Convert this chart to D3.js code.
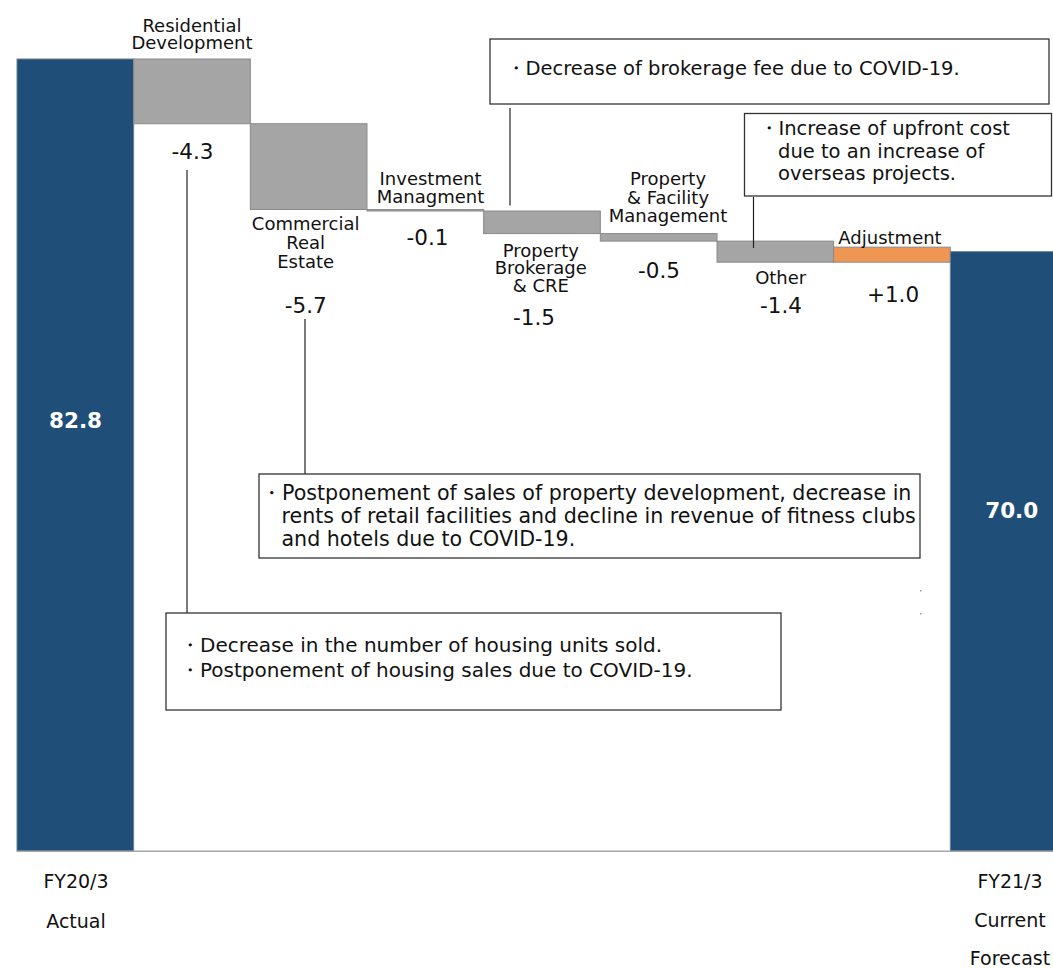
<!DOCTYPE html>
<html>
<head>
<meta charset="utf-8">
<script src="https://cdn.jsdelivr.net/npm/d3@7"></script>
<style>
  html, body { margin: 0; padding: 0; background: #fff; }
  svg { display: block; }
  text { font-family: "DejaVu Sans", Verdana, sans-serif; fill: #111; }
</style>
</head>
<body>
<svg id="chart" width="1053" height="968"></svg>
<script>
// Operating income bridge, FY20/3 actual -> FY21/3 current forecast
const categories = [
  "FY20/3 Actual", "Residential Development", "Commercial Real Estate",
  "Investment Managment", "Property Brokerage & CRE",
  "Property & Facility Management", "Other", "Adjustment",
  "FY21/3 Current Forecast"
];
const categoryLines = [
  ["FY20/3", "Actual"], ["Residential", "Development"],
  ["Commercial", "Real", "Estate"], ["Investment", "Managment"],
  ["Property", "Brokerage", "& CRE"], ["Property", "& Facility", "Management"],
  ["Other"], ["Adjustment"], ["FY21/3", "Current", "Forecast"]
];
const startValue = 82.8;
const endValue = 70.0;
const deltas = [-4.3, -5.7, -0.1, -1.5, -0.5, -1.4, 1.0];
const valueLabels = ["82.8", "-4.3", "-5.7", "-0.1", "-1.5", "-0.5", "-1.4", "+1.0", "70.0"];

const notes = [
  { lines: ["・Decrease of brokerage fee due to COVID-19."], target: 4 },
  { lines: ["・Increase of upfront cost", "due to an increase of", "overseas projects."], target: 6 },
  { lines: ["・Postponement of sales of property development, decrease in",
            "rents of retail facilities and decline in revenue of fitness clubs",
            "and hotels due to COVID-19."], target: 2 },
  { lines: ["・Decrease in the number of housing units sold.",
            "・Postponement of housing sales due to COVID-19."], target: 1 }
];

// ---- layout ----
const svg = d3.select("#chart");
const axisFloor = 30.16;

const x = d3.scaleBand().domain(categories).range([17, 1067]).padding(0);
const y = d3.scaleLinear().domain([axisFloor, startValue]).range([851.3, 59]);

// build waterfall segments
const bars = [];
bars.push({ cat: categories[0], y0: axisFloor, y1: startValue, kind: "total" });
let running = startValue;
deltas.forEach((d, i) => {
  const next = running + d;
  bars.push({ cat: categories[i + 1], y0: Math.min(running, next), y1: Math.max(running, next),
              kind: d < 0 ? "down" : "up" });
  running = next;
});
bars.push({ cat: categories[8], y0: axisFloor, y1: endValue, kind: "total" });

const fills = { total: "#1F4E79", down: "#A5A5A5", up: "#EF9752" };

svg.append("g").selectAll("rect").data(bars).join("rect")
  .attr("x", d => x(d.cat))
  .attr("width", x.bandwidth())
  .attr("y", d => y(d.y1))
  .attr("height", d => Math.max(1, y(d.y0) - y(d.y1)))
  .attr("fill", d => fills[d.kind])
  .attr("stroke", d => d.kind === "total" ? "#6f7f8f" : "#8a8a8a")
  .attr("stroke-width", 1);

// baseline
svg.append("line")
  .attr("x1", 17).attr("x2", 1053)
  .attr("y1", y(axisFloor)).attr("y2", y(axisFloor))
  .attr("stroke", "#A6A6A6").attr("stroke-width", 1.5);

// category label placement: [center x, first baseline, line step, font size]
const catPos = [
  [76, 888.3, 39.5, 19], [192, 31.7, 17.4, 18], [305.7, 230, 19.1, 18],
  [430.5, 185, 17.7, 18], [540.8, 256.7, 17.5, 18], [668, 185, 18.6, 18],
  [780.7, 284.3, 0, 18], [890, 244, 0, 18], [1010, 888.3, 38.4, 19]
];
const cl = svg.append("g");
categoryLines.forEach((lines, i) => {
  const [cx, by, step, fs] = catPos[i];
  const t = cl.append("text").attr("text-anchor", "middle").attr("font-size", fs);
  lines.forEach((ln, k) => t.append("tspan").attr("x", cx).attr("y", by + k * step).text(ln));
});

// value labels: [center x, baseline]
const valPos = [
  [75.5, 427.7], [192.5, 159], [305.8, 313], [427.5, 245], [534, 325],
  [659, 278.3], [781, 313.3], [893, 301.7], [1011.7, 517.5]
];
svg.append("g").selectAll("text").data(valueLabels).join("text")
  .attr("x", (d, i) => valPos[i][0])
  .attr("y", (d, i) => valPos[i][1])
  .attr("text-anchor", "middle")
  .attr("font-size", 21.5)
  .attr("font-weight", (d, i) => (i === 0 || i === 8) ? "bold" : "normal")
  .style("fill", (d, i) => (i === 0 || i === 8) ? "#fff" : "#111")
  .text(d => d);

// annotation boxes: box [x, y, w, h], text start x (first, rest), first baseline, step, connector
const noteLayout = [
  { box: [490, 39, 559, 65], tx: [505.5, 525], ty: 75, step: 0, fs: 19.5, link: [510, 108, 205.5] },
  { box: [744.5, 113.5, 307, 82.5], tx: [758.5, 778], ty: 135, step: 22.6, fs: 19.5, link: [753.5, 197, 248] },
  { box: [259, 474, 661, 84], tx: [261, 281.5], ty: 499.5, step: 23.4, fs: 20.6, link: [305, 319, 474] },
  { box: [166, 613, 615, 97], tx: [180, 180], ty: 652, step: 24.6, fs: 20, link: [187, 170, 613] }
];
const ng = svg.append("g");
notes.forEach((n, i) => {
  const L = noteLayout[i];
  ng.append("line")
    .attr("x1", L.link[0]).attr("x2", L.link[0])
    .attr("y1", L.link[1]).attr("y2", L.link[2])
    .attr("stroke", "#222").attr("stroke-width", 1.2);
  ng.append("rect")
    .attr("x", L.box[0]).attr("y", L.box[1])
    .attr("width", L.box[2]).attr("height", L.box[3])
    .attr("fill", "#fff").attr("stroke", "#333").attr("stroke-width", 1.3);
  const t = ng.append("text").attr("font-size", L.fs);
  n.lines.forEach((ln, k) => t.append("tspan")
    .attr("x", k === 0 ? L.tx[0] : L.tx[1])
    .attr("y", L.ty + k * L.step)
    .text(ln));
});

// two stray specks near the forecast bar
svg.append("g").selectAll("rect").data([590, 613]).join("rect")
  .attr("x", 920).attr("y", d => d).attr("width", 1.5).attr("height", 1.5)
  .attr("fill", "#999");
</script>
</body>
</html>
